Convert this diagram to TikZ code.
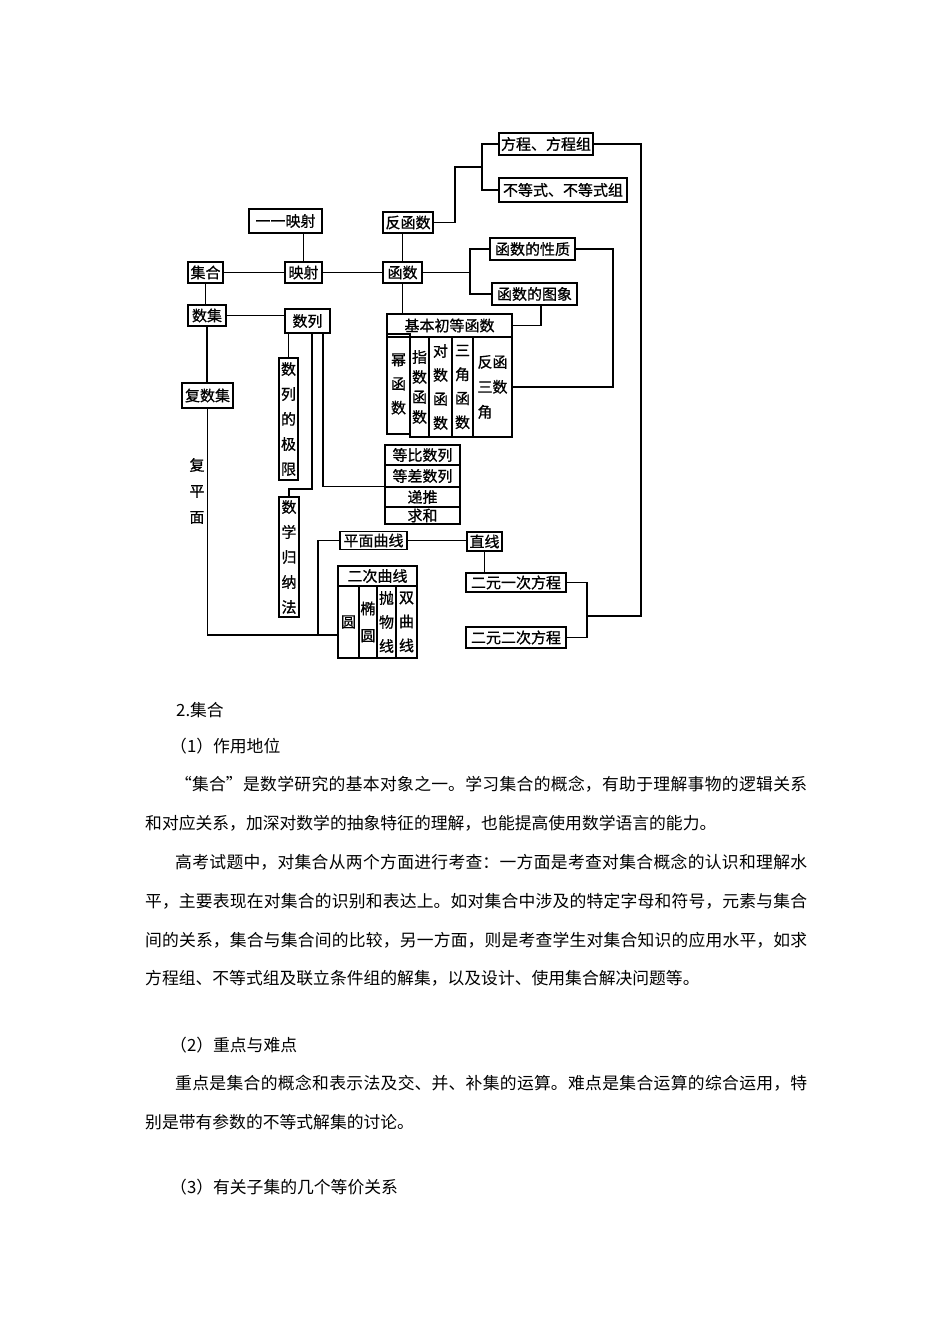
\documentclass[tikz,border=0pt]{standalone}
\usepackage{fontspec}
\newfontfamily\cjk{Noto Sans CJK SC}
\newfontfamily\cjkb{Noto Sans CJK SC}[FakeBold=0.8]
\XeTeXlinebreaklocale "zh"
\XeTeXlinebreakskip=0pt plus 3pt
\usetikzlibrary{calc}

\newcommand\boxfont{\cjkb\fontsize{15}{16}\selectfont}
\newcommand\bodyfont{\cjk\fontsize{16.8}{20}\selectfont}

\begin{document}
\begin{tikzpicture}[x=1pt,y=-1pt,
  box/.style={draw,line width=1.6pt,inner sep=0pt,font=\boxfont},
  col/.style={box,align=center,font={\cjkb\fontsize{15}{#1}\selectfont}},
  link/.style={line width=1.4pt},
  txt/.style={anchor=west,inner sep=0pt,font=\bodyfont},
  fullline/.style={anchor=west,inner sep=0pt,text width=#1,align=justify,font=\bodyfont}]
  \fill[white] (0,0) rectangle (950,1344);
  \useasboundingbox (0,0) rectangle (950,1344);

  \node[box,minimum width=94,minimum height=22] (fcz) at (546,144) {方程、方程组};
  \node[box,minimum width=128,minimum height=24] (bdsz) at (563,190) {不等式、不等式组};
  \node[box,minimum width=73,minimum height=24] (yyys) at (285.5,221) {一一映射};
  \node[box,minimum width=50,minimum height=21] (ffs) at (408,222.5) {反函数};
  \node[box,minimum width=85,minimum height=22] (xz) at (532.5,249) {函数的性质};
  \node[box,minimum width=85,minimum height=22] (tx) at (534.5,294) {函数的图象};
  \node[box,minimum width=35,minimum height=21] (jh) at (205.5,272.5) {集合};
  \node[box,minimum width=37,minimum height=21] (ys) at (303.5,272.5) {映射};
  \node[box,minimum width=39,minimum height=21] (hs) at (402.5,272.5) {函数};
  \node[box,minimum width=38,minimum height=21] (sj) at (207,315.5) {数集};
  \node[box,minimum width=45,minimum height=24] (sl) at (307.5,321) {数列};
  \node[box,minimum width=51,minimum height=25] (fsj) at (207.5,395.5) {复数集};
  \node[font={\cjkb\fontsize{15}{26}\selectfont},align=center,inner sep=0pt] (fpm) at (197,491) {复\\平\\面};

  \node[box,minimum width=125,minimum height=23] (jbhs) at (449.5,325.5) {基本初等函数};
  \node[col=24,minimum width=23,minimum height=100] (mhs) at (398.5,384) {幂\\函\\数};
  \node[col=20,minimum width=19,minimum height=100] (zshs) at (419.5,387) {指\\数\\函\\数};
  \node[col=24,minimum width=23,minimum height=100] (dshs) at (440.5,387) {对\\数\\函\\数};
  \node[col=24,minimum width=21,minimum height=100] (sjhs) at (462.5,387) {三\\角\\函\\数};
  \node[col=25,minimum width=39,minimum height=100] (fsjhs) at (492.5,387) {反函\\三数\\角\phantom{数}};

  \node[col=25,minimum width=19,minimum height=122] (jx) at (288.5,419) {数\\列\\的\\极\\限};
  \node[col=25,minimum width=20,minimum height=120] (gn) at (289,557) {数\\学\\归\\纳\\法};

  \node[box,minimum width=75,minimum height=20] (db) at (422.5,455) {等比数列};
  \node[box,minimum width=75,minimum height=22] (dc) at (422.5,476) {等差数列};
  \node[box,minimum width=75,minimum height=20] (dt) at (422.5,497) {递推};
  \node[box,minimum width=75,minimum height=17] (qh) at (422.5,515.5) {求和};

  \node[box,minimum width=67,minimum height=18] (pmqx) at (373.5,540.5) {平面曲线};
  \node[box,minimum width=35,minimum height=19] (zx) at (484.5,541.5) {直线};
  \node[box,minimum width=79,minimum height=20] (ecqx) at (377.5,576) {二次曲线};
  \node[col=24,minimum width=21,minimum height=72] (yuan) at (348.5,622) {圆};
  \node[col=27,minimum width=18,minimum height=72] (ty) at (368,622) {椭\\圆};
  \node[col=24,minimum width=19,minimum height=72] (pwx) at (386.5,622) {抛\\物\\线};
  \node[col=24,minimum width=21,minimum height=72] (sqx) at (406.5,622) {双\\曲\\线};
  \node[box,minimum width=100,minimum height=19] (eyyc) at (516,582.5) {二元一次方程};
  \node[box,minimum width=100,minimum height=21] (eyec) at (516,637.5) {二元二次方程};

  \coordinate (fj) at (482,167);
  \coordinate (hj) at (470,272.5);
  \coordinate (qj) at (318,635);
  \coordinate (rj) at (587,616);

  \draw[link] (jh) -- (ys);
  \draw[link] (ys) -- (hs);
  \draw[link] (ys.north) -- (ys.north |- yyys.south);
  \draw[link] (hs.north) -- (hs.north |- ffs.south);
  \draw[link] (hs.south) -- (hs.south |- jbhs.north);
  \draw[link] (ffs.east) -| (455,167) -- (fj);
  \draw[link] (fcz.west) -| (fj) |- (bdsz.west);
  \draw[link] (fcz.east) -| (641,616) -- (rj);
  \draw[link] (eyyc.east) -| (rj) |- (eyec.east);
  \draw[link] (hs.east) -- (hj);
  \draw[link] (xz.west) -| (hj) |- (tx.west);
  \draw[link] (xz.east) -- ++(37,0) |- (fsjhs.east);
  \draw[link] ([xshift=6.5pt]tx.south) |- (jbhs.east);
  \draw[link] (jh.south) -- (jh.south |- sj.north);
  \draw[link] (sj.east) -- (sj.east -| sl.west);
  \draw[link] (sj.south) -- (sj.south |- fsj.north);
  \draw[link] (fsj.south) |- (qj) -- (qj -| yuan.west);
  \draw[link] (pmqx.west) -| (qj);
  \draw[link] (pmqx.east) -- (pmqx.east -| zx.west);
  \draw[link] (zx.south) -- (zx.south |- eyyc.north);
  \draw[link] (jx.north) -- (jx.north |- sl.south);
  \draw[link] ([xshift=4.5pt]sl.south) -- ++(0,155) -| (gn.north);
  \draw[link] ([xshift=15.5pt]sl.south) |- (dt.north west);

  \node[txt] (t0) at (176,710) {2.集合};
  \node[txt] (t1) at (170,746) {（1）作用地位};
  \node[fullline=632pt] (p1) at (175,784) {\parfillskip=0pt “集合”是数学研究的基本对象之一。学习集合的概念，有助于理解事物的逻辑关系\par};
  \node[txt] (p2) at (145,823) {和对应关系，加深对数学的抽象特征的理解，也能提高使用数学语言的能力。};
  \node[fullline=632pt] (p3) at (175,862) {\parfillskip=0pt 高考试题中，对集合从两个方面进行考查：一方面是考查对集合概念的认识和理解水\par};
  \node[fullline=662pt] (p4) at (145,901) {\parfillskip=0pt 平，主要表现在对集合的识别和表达上。如对集合中涉及的特定字母和符号，元素与集合\par};
  \node[fullline=662pt] (p5) at (145,940) {\parfillskip=0pt 间的关系，集合与集合间的比较，另一方面，则是考查学生对集合知识的应用水平，如求\par};
  \node[txt] (p6) at (145,978) {方程组、不等式组及联立条件组的解集，以及设计、使用集合解决问题等。};
  \node[txt] (t2) at (170,1045) {（2）重点与难点};
  \node[fullline=632pt] (p7) at (175,1083) {\parfillskip=0pt 重点是集合的概念和表示法及交、并、补集的运算。难点是集合运算的综合运用，特\par};
  \node[txt] (p8) at (145,1122) {别是带有参数的不等式解集的讨论。};
  \node[txt] (t3) at (170,1187) {（3）有关子集的几个等价关系};
\end{tikzpicture}
\end{document}
